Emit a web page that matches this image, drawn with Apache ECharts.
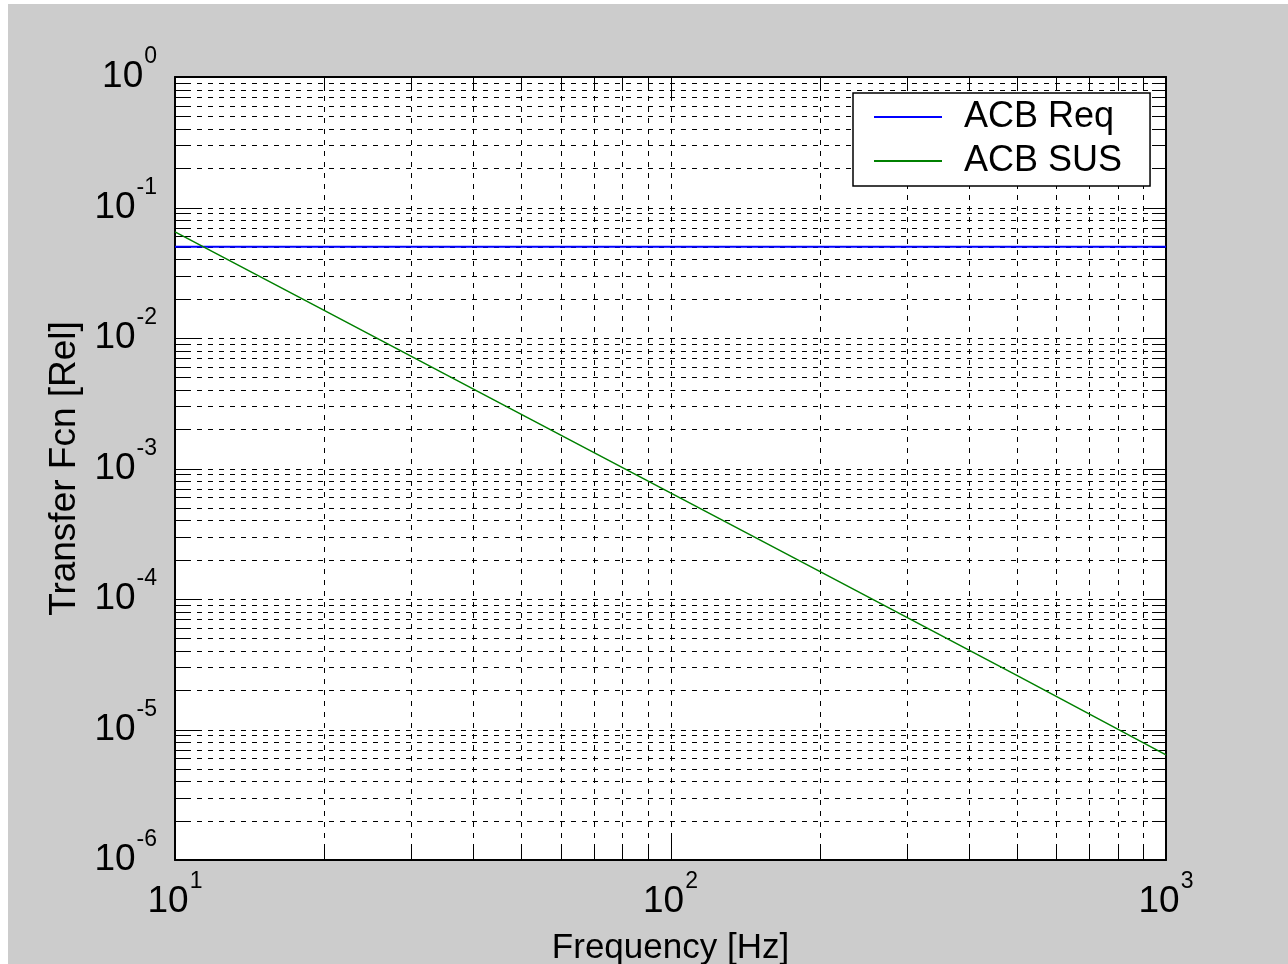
<!DOCTYPE html>
<html>
<head>
<meta charset="utf-8">
<title>ACB transfer function</title>
<script src="https://cdn.jsdelivr.net/npm/echarts@6/dist/echarts.min.js"></script>
<style>
  html, body { margin: 0; padding: 0; background: #ffffff; }
  #chart { position: absolute; left: 8px; top: 4px; width: 1280px; height: 960px; }
</style>
</head>
<body>
<div id="chart"></div>
<script>
// Frequencies (Hz) at which the suspension response was read
const freqHz = [10, 20, 50, 100, 200, 500, 1000];
// ACB SUS transfer function magnitude at those frequencies
const acbSus = [0.065, 0.0163, 0.0026, 0.00065, 0.000163, 0.000026, 0.0000064];
// ACB requirement: flat level across the band
const reqFreqHz = [10, 1000];
const acbReq = [0.05, 0.05];

// Axis ranges and decade structure
const xDecades = [10, 100];                       // decade starts on the frequency axis
const yDecades = [1e-6, 1e-5, 1e-4, 1e-3, 1e-2, 1e-1];
const mantissas = [1, 2, 3, 4, 5, 6, 7, 8, 9];
const X_MIN = 10, X_MAX = 1000, Y_MIN = 1e-6, Y_MAX = 1;

const FONT = "'Liberation Sans', Arial, Helvetica, sans-serif";

// grid / tick positions: every mantissa inside each decade (edges excluded)
function gridValues(decades, lo, hi) {
  const out = [];
  decades.forEach(d => mantissas.forEach(m => {
    const v = d * m;
    if (v > lo * 1.0001 && v < hi * 0.9999) out.push([v, m === 1 ? 1 : 0]);
  }));
  return out;
}
const xGrid = gridValues(xDecades, X_MIN, X_MAX);
const yGrid = gridValues(yDecades, Y_MIN, Y_MAX);

const MAJOR_TICK = 22, MINOR_TICK = 14;
const DASH = [5, 6];

function crisp(v) { return Math.round(v) + 0.5; }

// vertical grid line + inside ticks at bottom and top
function renderXGrid(params, api) {
  const v = api.value(0);
  const major = api.value(2) === 1;
  const b = api.coord([v, Y_MIN]);
  const t = api.coord([v, Y_MAX]);
  const x = crisp(b[0]);
  const len = major ? MAJOR_TICK : MINOR_TICK;
  return {
    type: 'group',
    children: [
      { type: 'line', shape: { x1: x, y1: b[1], x2: x, y2: t[1] },
        style: { stroke: '#000', lineWidth: 1, lineDash: DASH } },
      { type: 'line', shape: { x1: x, y1: b[1], x2: x, y2: b[1] - len },
        style: { stroke: '#000', lineWidth: 1 } },
      { type: 'line', shape: { x1: x, y1: t[1], x2: x, y2: t[1] + len },
        style: { stroke: '#000', lineWidth: 1 } }
    ]
  };
}

// horizontal grid line + inside ticks at left and right
function renderYGrid(params, api) {
  const v = api.value(1);
  const major = api.value(2) === 1;
  const l = api.coord([X_MIN, v]);
  const r = api.coord([X_MAX, v]);
  const y = crisp(l[1]);
  const len = major ? MAJOR_TICK : MINOR_TICK;
  return {
    type: 'group',
    children: [
      { type: 'line', shape: { x1: l[0], y1: y, x2: r[0], y2: y },
        style: { stroke: '#000', lineWidth: 1, lineDash: DASH } },
      { type: 'line', shape: { x1: l[0], y1: y, x2: l[0] + len, y2: y },
        style: { stroke: '#000', lineWidth: 1 } },
      { type: 'line', shape: { x1: r[0], y1: y, x2: r[0] - len, y2: y },
        style: { stroke: '#000', lineWidth: 1 } }
    ]
  };
}

// "10^n" tick labels
function powerLabel(v) {
  const e = Math.round(Math.log10(v));
  return '{b|10}{s|' + e + '}';
}
const powerRich = {
  b: { fontFamily: FONT, fontSize: 37, color: '#000', padding: [13, 0, 13, 0], verticalAlign: 'top' },
  s: { fontFamily: FONT, fontSize: 23, color: '#000', padding: [0, 0, 0, 1], verticalAlign: 'top' }
};

const axisLineStyle = { show: true, lineStyle: { color: '#000', width: 2 } };

const chart = echarts.init(document.getElementById('chart'), null, { renderer: 'canvas' });

chart.setOption({
  backgroundColor: '#cccccc',
  animation: false,
  grid: { left: 167, top: 73, width: 991, height: 783, show: true,
          outerBoundsMode: 'none', containLabel: false,
          backgroundColor: '#ffffff', borderWidth: 0 },
  legend: {
    data: ['ACB Req', 'ACB SUS'],
    orient: 'vertical',
    left: 845, top: 89,
    icon: 'rect',
    itemWidth: 68, itemHeight: 2,
    itemGap: 8,
    padding: [6, 28, 7, 21],
    backgroundColor: '#ffffff',
    borderColor: '#000', borderWidth: 1.5,
    textStyle: { fontFamily: FONT, fontSize: 36, color: '#000', padding: [0, 0, 0, 17] }
  },
  xAxis: [
    {
      type: 'log', logBase: 10, min: X_MIN, max: X_MAX,
      position: 'bottom',
      name: 'Frequency [Hz]', nameLocation: 'middle', nameGap: 71,
      nameTextStyle: { fontFamily: FONT, fontSize: 35, color: '#000' },
      axisLine: axisLineStyle,
      axisTick: { show: false },
      splitLine: { show: false },
      axisLabel: { formatter: powerLabel, rich: powerRich, margin: 10,
                   fontFamily: FONT, fontSize: 37, color: '#000',
                   showMinLabel: true, showMaxLabel: true, hideOverlap: false }
    },
    {
      type: 'log', logBase: 10, min: X_MIN, max: X_MAX,
      position: 'top',
      axisLine: axisLineStyle,
      axisTick: { show: false }, axisLabel: { show: false }, splitLine: { show: false }
    }
  ],
  yAxis: [
    {
      type: 'log', logBase: 10, min: Y_MIN, max: Y_MAX,
      position: 'left',
      name: 'Transfer Fcn [Rel]', nameLocation: 'middle', nameGap: 90,
      nameTextStyle: { fontFamily: FONT, fontSize: 37, color: '#000' },
      axisLine: axisLineStyle,
      axisTick: { show: false },
      splitLine: { show: false },
      axisLabel: { formatter: powerLabel, rich: powerRich, margin: 18,
                   fontFamily: FONT, fontSize: 37, color: '#000',
                   showMinLabel: true, showMaxLabel: true, hideOverlap: false }
    },
    {
      type: 'log', logBase: 10, min: Y_MIN, max: Y_MAX,
      position: 'right',
      axisLine: axisLineStyle,
      axisTick: { show: false }, axisLabel: { show: false }, splitLine: { show: false }
    }
  ],
  series: [
    {
      type: 'custom', name: 'xgrid', silent: true, z: 1,
      xAxisIndex: 0, yAxisIndex: 0,
      renderItem: renderXGrid,
      data: xGrid.map(g => [g[0], Y_MAX, g[1]]),
      encode: { x: 0, y: 1 }
    },
    {
      type: 'custom', name: 'ygrid', silent: true, z: 1,
      xAxisIndex: 0, yAxisIndex: 0,
      renderItem: renderYGrid,
      data: yGrid.map(g => [X_MIN, g[0], g[1]]),
      encode: { x: 0, y: 1 }
    },
    {
      type: 'line', name: 'ACB Req', z: 3,
      xAxisIndex: 0, yAxisIndex: 0,
      data: reqFreqHz.map((f, i) => [f, acbReq[i]]),
      showSymbol: false, symbol: 'none',
      itemStyle: { color: '#0000ff' },
      lineStyle: { color: '#0000ff', width: 2 }
    },
    {
      type: 'line', name: 'ACB SUS', z: 3,
      xAxisIndex: 0, yAxisIndex: 0,
      data: freqHz.map((f, i) => [f, acbSus[i]]),
      showSymbol: false, symbol: 'none',
      itemStyle: { color: '#008000' },
      lineStyle: { color: '#008000', width: 1.5 }
    }
  ]
});
</script>
</body>
</html>
